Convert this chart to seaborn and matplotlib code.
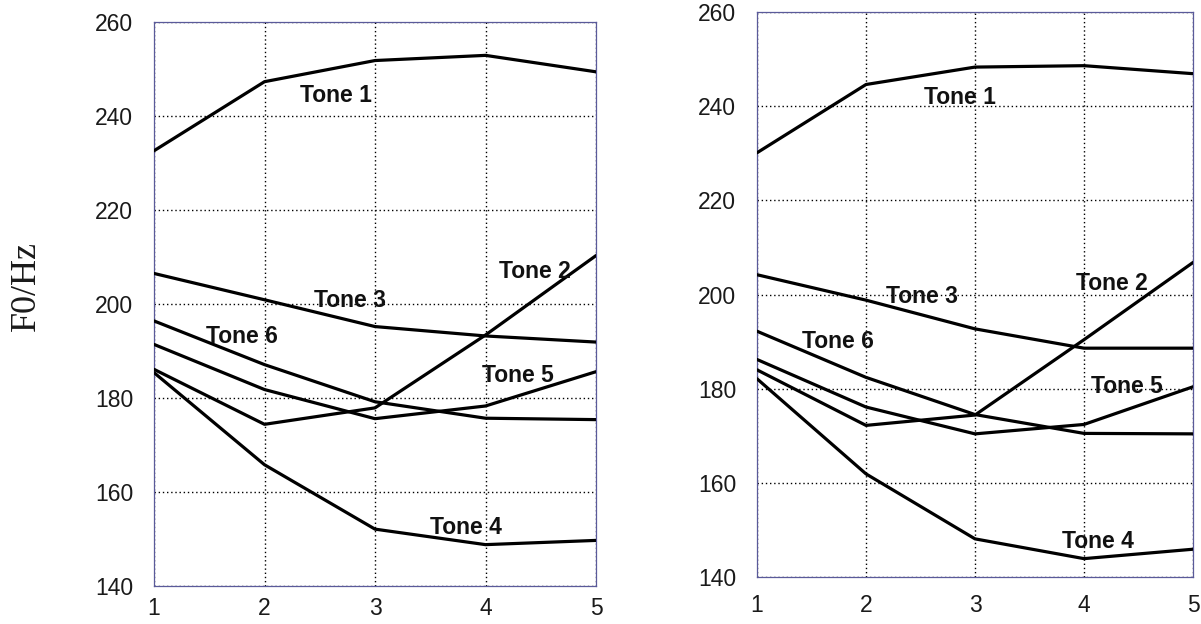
import numpy as np
import pandas as pd
import matplotlib
matplotlib.use("Agg")
import matplotlib.pyplot as plt
import seaborn as sns

# Normalised time points along the syllable
points = [1, 2, 3, 4, 5]
tones = ["Tone 1", "Tone 2", "Tone 3", "Tone 4", "Tone 5", "Tone 6"]

# Mean F0 contours (Hz), left panel
left_tone1 = [232.6, 247.3, 251.8, 252.9, 249.4]
left_tone2 = [186.1, 174.4, 177.9, 193.4, 210.3]
left_tone3 = [206.5, 200.9, 195.2, 193.2, 191.9]
left_tone4 = [185.4, 165.8, 152.1, 148.8, 149.7]
left_tone5 = [191.4, 181.8, 175.6, 178.3, 185.6]
left_tone6 = [196.4, 187.1, 179.2, 175.7, 175.4]

# Mean F0 contours (Hz), right panel
right_tone1 = [230.1, 244.6, 248.3, 248.6, 246.9]
right_tone2 = [184.0, 172.2, 174.4, 190.4, 206.8]
right_tone3 = [204.2, 198.8, 192.7, 188.6, 188.6]
right_tone4 = [182.1, 161.9, 148.1, 143.9, 145.9]
right_tone5 = [186.2, 176.1, 170.4, 172.4, 180.4]
right_tone6 = [192.2, 182.4, 174.5, 170.5, 170.4]

# Label anchor positions (x, F0) for each tone
left_label_x = [2.65, 4.45, 2.77, 3.82, 4.29, 1.80]
left_label_y = [244.3, 207.0, 200.8, 152.5, 184.7, 193.0]
right_label_x = [2.86, 4.26, 2.51, 4.13, 4.39, 1.74]
right_label_y = [241.9, 202.4, 199.6, 147.6, 180.4, 190.0]

y_ticks = [140, 160, 180, 200, 220, 240, 260]


def long_form(series):
    rows = []
    for tone, vals in zip(tones, series):
        for p, v in zip(points, vals):
            rows.append({"point": p, "f0": v, "tone": tone})
    return pd.DataFrame(rows)


left_df = long_form([left_tone1, left_tone2, left_tone3,
                     left_tone4, left_tone5, left_tone6])
right_df = long_form([right_tone1, right_tone2, right_tone3,
                      right_tone4, right_tone5, right_tone6])

sns.set_style("white")
plt.rcParams["font.family"] = ["Liberation Sans", "DejaVu Sans"]

W, H = 1201, 624
fig = plt.figure(figsize=(W / 100, H / 100), dpi=100)


def px_axes(x0, x1, y0, y1):
    return fig.add_axes([x0 / W, 1 - y1 / H, (x1 - x0) / W, (y1 - y0) / H])


ax_l = px_axes(154, 596, 22, 586)
ax_r = px_axes(757, 1193, 12, 577)

spine_color = "#5a5a9a"

for ax, df, lx, ly, xpad in [(ax_l, left_df, left_label_x, left_label_y, 8),
                             (ax_r, right_df, right_label_x, right_label_y, 12)]:
    sns.lineplot(data=df, x="point", y="f0", units="tone", estimator=None,
                 color="black", linewidth=2.3, ax=ax, legend=False, zorder=3)
    ax.set_xlim(1, 5)
    ax.set_ylim(140, 260)
    ax.set_xticks(points)
    ax.set_yticks(y_ticks)
    ax.set_xticklabels([str(p) for p in points])
    ax.set_yticklabels([str(t) for t in y_ticks])
    ax.tick_params(axis="both", length=0, labelsize=16.5, colors="#1a1a1a")
    ax.tick_params(axis="y", pad=15)
    ax.tick_params(axis="x", pad=xpad)
    ax.grid(True, color="black", linestyle=(0, (1, 2)), linewidth=1.0)
    for s in ax.spines.values():
        s.set_color(spine_color)
        s.set_linewidth(0.9)
        s.set_visible(True)
    ax.set_xlabel("")
    ax.set_ylabel("")
    for name, x, y in zip(tones, lx, ly):
        ax.text(x, y, name, ha="center", va="center", fontsize=16.5,
                fontweight="bold", color="#111111", zorder=4)

fig.text(26 / W, 1 - 286 / H, "F0/Hz", rotation=90, ha="center",
         va="center", fontsize=26, family=["Liberation Serif", "DejaVu Serif"],
         color="#1a1a1a")

fig.savefig("out.png", dpi=100)
